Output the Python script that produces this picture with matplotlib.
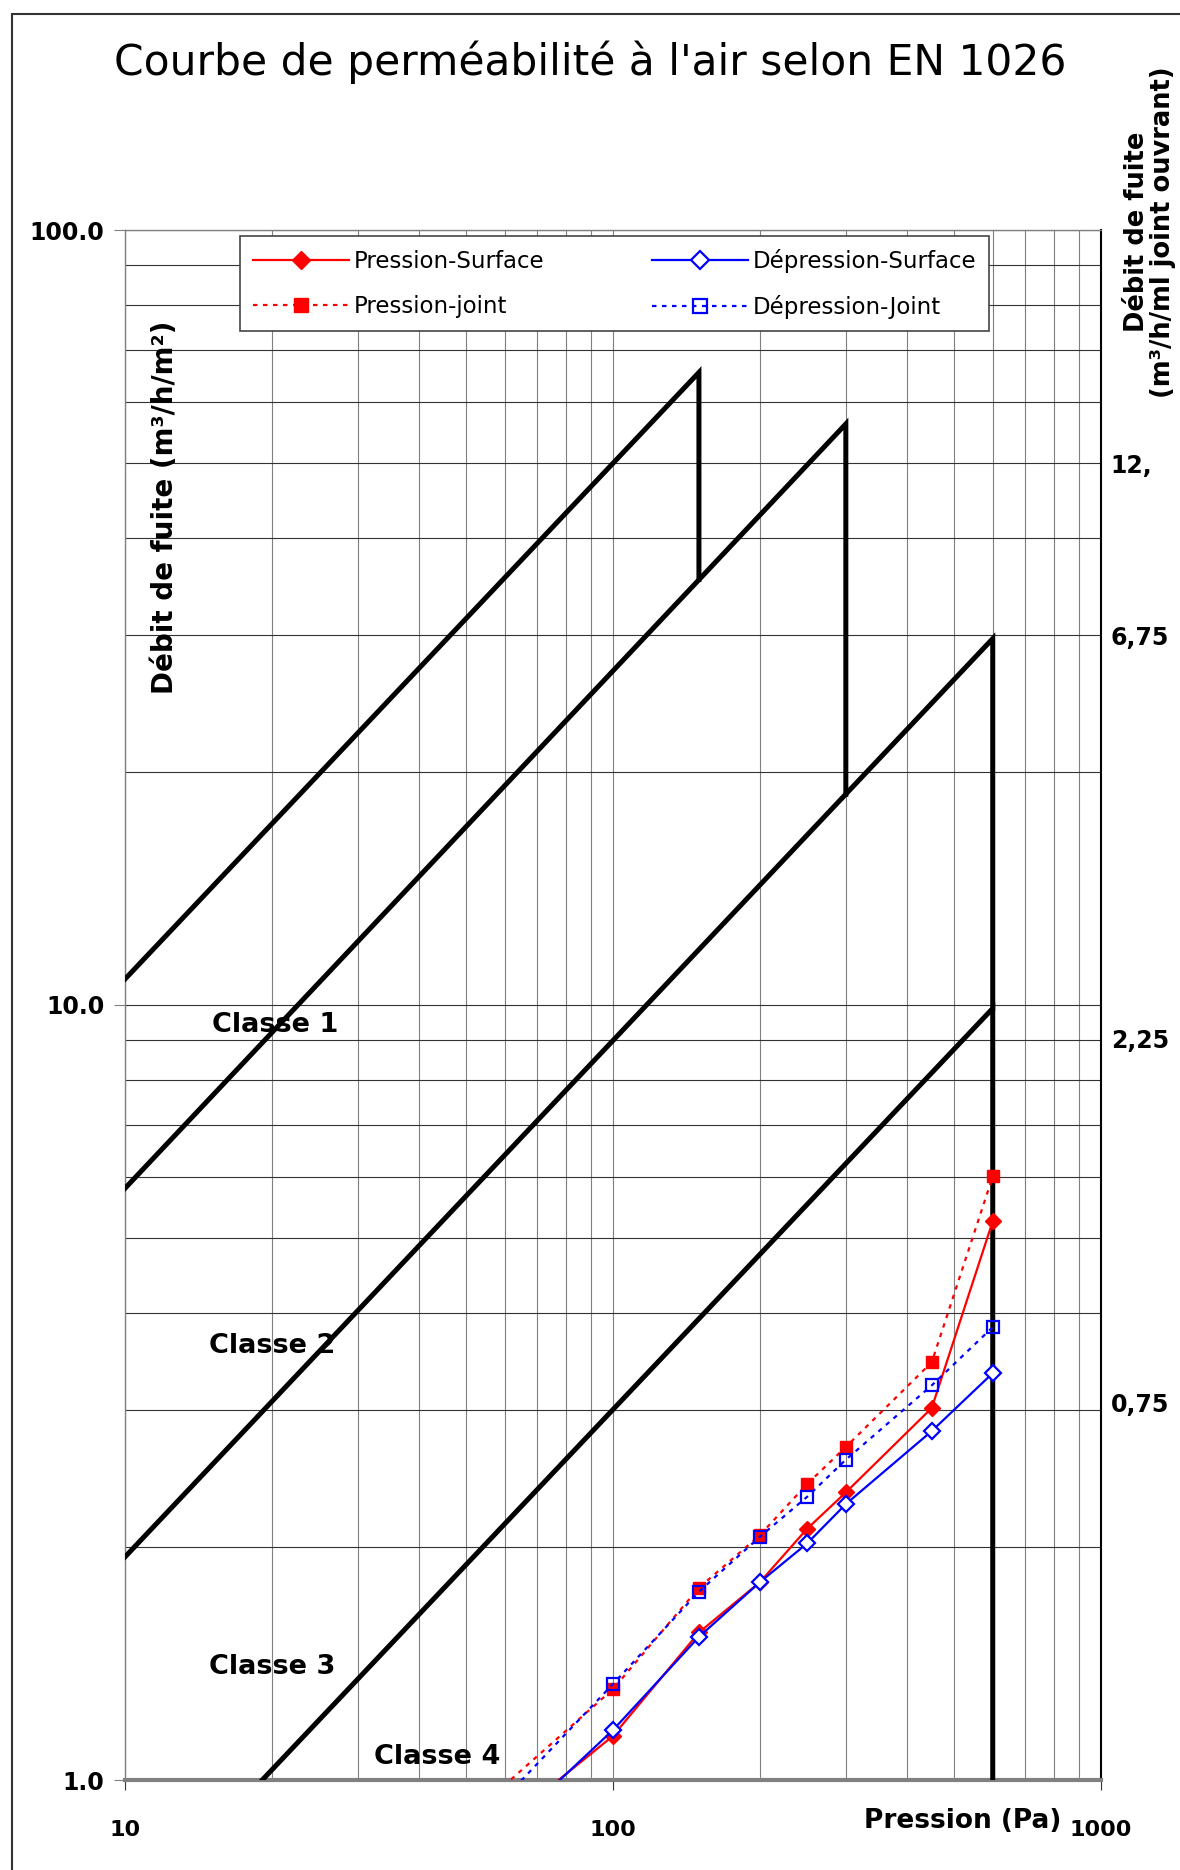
import matplotlib
matplotlib.use('Agg')
import matplotlib.pyplot as plt
import matplotlib.ticker as mticker
from matplotlib.patches import Rectangle

# Measured points (pressure in Pa, leak flow in m3/h/m2)
pressure = [50, 100, 150, 200, 250, 300, 450, 600]
pression_surface = [0.80, 1.14, 1.55, 1.80, 2.11, 2.35, 3.02, 5.26]
depression_surface = [0.77, 1.16, 1.53, 1.80, 2.02, 2.27, 2.82, 3.35]
pression_joint = [0.89, 1.31, 1.77, 2.07, 2.41, 2.69, 3.46, 6.01]
depression_joint = [0.84, 1.33, 1.75, 2.06, 2.32, 2.59, 3.23, 3.84]

# Class limit lines (EN 12207)
classe1_x = [10, 150, 150]
classe1_y = [10.8, 65.5, 35.4]
classe2_x = [10, 300, 300]
classe2_y = [5.8, 56.2, 18.7]
classe3_x = [10, 600, 600]
classe3_y = [1.94, 29.7, 9.9]
classe4_x = [10, 600, 600]
classe4_y = [0.65, 9.9, 0.9]

class_names = ['Classe 1', 'Classe 2', 'Classe 3', 'Classe 4']
class_label_x = [20.3, 20.0, 20.0, 43.7]
class_label_y = [9.42, 3.63, 1.40, 1.07]

left_ticks = [1, 10, 100]
left_labels = ['1.0', '10.0', '100.0']
bottom_ticks = [10, 100, 1000]
bottom_labels = ['10', '100', '1000']
right_ticks = [50, 30, 9.06, 3.07]
right_labels = ['12,', '6,75', '2,25', '0,75']

# %%
fig = plt.figure(figsize=(11.8, 18.7), dpi=100)
ax = fig.add_axes([125/1180, 1 - 1780/1870, 976/1180, 1550/1870])
ax.set_xscale('log')
ax.set_yscale('log')
ax.set_xlim(10, 1000)
ax.set_ylim(1, 100)

ax.xaxis.set_major_locator(mticker.FixedLocator(bottom_ticks))
ax.xaxis.set_major_formatter(mticker.FixedFormatter(bottom_labels))
ax.yaxis.set_major_locator(mticker.FixedLocator(left_ticks))
ax.yaxis.set_major_formatter(mticker.FixedFormatter(left_labels))
ax.xaxis.set_minor_locator(mticker.LogLocator(subs=range(2, 10)))
ax.yaxis.set_minor_locator(mticker.LogLocator(subs=range(2, 10)))
ax.xaxis.set_minor_formatter(mticker.NullFormatter())
ax.yaxis.set_minor_formatter(mticker.NullFormatter())

ax.grid(which='both', axis='x', color='#808080', lw=0.8)
ax.grid(which='both', axis='y', color='#333333', lw=0.8)
ax.set_axisbelow(True)

ax.tick_params(which='minor', length=0)
ax.tick_params(axis='y', which='major', length=8, color='#808080', pad=7,
               labelsize=17)
ax.tick_params(axis='x', which='major', length=7, color='#333333', pad=22,
               labelsize=16)
for lab in ax.get_yticklabels() + ax.get_xticklabels():
    lab.set_fontweight('bold')

for side in ['left', 'top']:
    ax.spines[side].set_color('#808080')
    ax.spines[side].set_linewidth(1)
ax.spines['bottom'].set_color('#808080')
ax.spines['bottom'].set_linewidth(3)
ax.spines['right'].set_color('black')
ax.spines['right'].set_linewidth(1.5)

# class lines
for cx, cy in [(classe1_x, classe1_y), (classe2_x, classe2_y),
               (classe3_x, classe3_y), (classe4_x, classe4_y)]:
    ax.plot(cx, cy, color='black', lw=3.6, solid_joinstyle='miter', zorder=3)

for name, tx, ty in zip(class_names, class_label_x, class_label_y):
    ax.text(tx, ty, name, ha='center', va='center', fontsize=19.5,
            fontweight='bold', zorder=4)

# measured series
l1, = ax.plot(pressure, pression_surface, color='red', lw=1.6, marker='D',
              markersize=8, markerfacecolor='red', markeredgecolor='red',
              zorder=5, label='Pression-Surface')
l2, = ax.plot(pressure, pression_joint, color='red', lw=1.6,
              linestyle=(0, (2, 2.5)), marker='s', markersize=9,
              markerfacecolor='red', markeredgecolor='red', zorder=5,
              label='Pression-joint')
l3, = ax.plot(pressure, depression_surface, color='blue', lw=1.6, marker='D',
              markersize=8, markerfacecolor='white', markeredgecolor='blue',
              markeredgewidth=1.6, zorder=6, label='Dépression-Surface')
l4, = ax.plot(pressure, depression_joint, color='blue', lw=1.6,
              linestyle=(0, (2, 2.5)), marker='s', markersize=9,
              markerfacecolor='none', markeredgecolor='blue',
              markeredgewidth=1.6, zorder=6, label='Dépression-Joint')

leg = ax.legend(handles=[l1, l2, l3, l4], ncol=2, loc='upper left',
                bbox_to_anchor=(0.118, 0.996, 0.767, 0.0), mode='expand',
                fontsize=16.5, handlelength=4.2, handletextpad=0.2,
                fancybox=False, framealpha=1, edgecolor='#444444',
                borderaxespad=0, labelspacing=0.95, borderpad=0.55,
                markerscale=1.15)
leg.get_frame().set_linewidth(1.2)
leg.set_zorder(10)

ax.set_ylabel('Débit de fuite (m³/h/m²)', fontsize=20, fontweight='bold')
ax.yaxis.set_label_coords(0.055, 0.821)
ax.set_xlabel('Pression (Pa)', fontsize=19, fontweight='bold')
ax.xaxis.set_label_coords(0.858, -0.018)

# right hand scale (m3/h/ml)
ax2 = ax.twinx()
ax2.set_yscale('log')
ax2.set_ylim(1, 100)
ax2.yaxis.set_major_locator(mticker.FixedLocator(right_ticks))
ax2.yaxis.set_major_formatter(mticker.FixedFormatter(right_labels))
ax2.yaxis.set_minor_locator(mticker.NullLocator())
ax2.tick_params(axis='y', length=0, pad=7, labelsize=17)
for lab in ax2.get_yticklabels():
    lab.set_fontweight('bold')
for s in ax2.spines.values():
    s.set_visible(False)

fig.text(1150/1180, 1 - 232/1870, 'Débit de fuite\n(m³/h/ml joint ouvrant)',
         rotation=90, ha='center', va='center', fontsize=18.5,
         fontweight='bold', multialignment='center', linespacing=1.0)

fig.suptitle("Courbe de perméabilité à l'air selon EN 1026", fontsize=30.5,
             y=1 - 62/1870, va='center')

# outer frame
fig.add_artist(Rectangle((12/1180, -0.05), 1.2, 1 - 14/1870 + 0.05,
                         transform=fig.transFigure, fill=False,
                         edgecolor='#333333', lw=1.5))

fig.savefig('out.png', dpi=100)
